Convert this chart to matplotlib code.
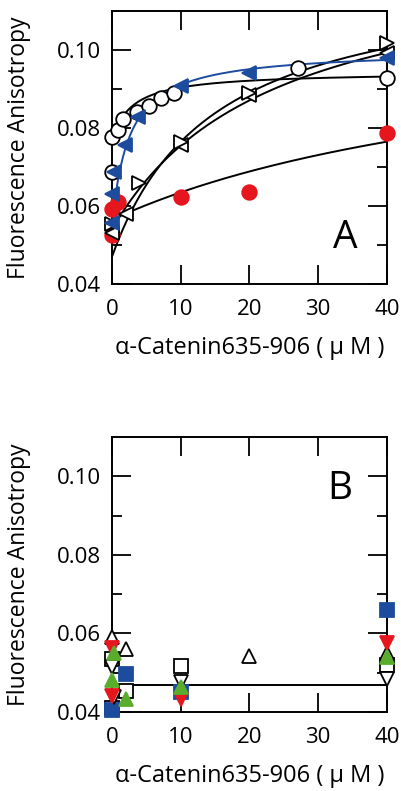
import matplotlib
matplotlib.use("Agg")
import matplotlib.pyplot as plt
import numpy as np
from matplotlib.ticker import FixedLocator

plt.rcParams['font.family'] = ['Open Sans', 'DejaVu Sans']

RED = '#e5161e'
BLUE = '#1d4c9e'
GREEN = '#5aad2c'

# ---------------- Panel A: binding titrations ----------------
circ_x = [0, 0, 0.9, 1.6, 3.6, 5.4, 7.2, 9.0, 27, 40]
circ_y = [0.0778, 0.0688, 0.0795, 0.0822, 0.0842, 0.0856, 0.0878, 0.0889, 0.0953, 0.0927]

blue_x = [0, 0, 0.3, 1.9, 3.8, 10, 20, 40]
blue_y = [0.0557, 0.0632, 0.0688, 0.0756, 0.0829, 0.0908, 0.0942, 0.0979]

rtri_x = [0, 4, 10, 20, 40]
rtri_y = [0.0555, 0.0660, 0.0765, 0.0890, 0.1017]

ltri_x = [0, 2, 10, 20, 40]
ltri_y = [0.0530, 0.0580, 0.0757, 0.0885, 0.0993]

red_x = [0, 0, 0.9, 10, 20, 40]
red_y = [0.0526, 0.0592, 0.0611, 0.0622, 0.0637, 0.0788]

# hyperbolic fits: (r0, amplitude, Kd)
fit_circ = (0.0770, 0.0174, 3.0)
fit_blue = (0.0550, 0.0451, 2.5)
fit_rtri = (0.0470, 0.0734, 14.9)
fit_ltri = (0.0540, 0.0718, 23.4)
fit_red = (0.0565, 0.0525, 65.0)

# ---------------- Panel B: non-binding controls ----------------
b_oup_x = [0, 2, 20, 40]
b_oup_y = [0.0590, 0.0560, 0.0542, 0.0549]

b_rdn_x = [0, 0, 10, 40]
b_rdn_y = [0.0562, 0.0442, 0.0434, 0.0575]

b_gup_x = [0.3, 0, 2, 10, 40]
b_gup_y = [0.0549, 0.0481, 0.0434, 0.0464, 0.0541]

b_bsq_x = [2, 10, 40, 0]
b_bsq_y = [0.0498, 0.0451, 0.0659, 0.0404]

b_osq_x = [0, 2, 10, 40, 0]
b_osq_y = [0.0534, 0.0453, 0.0517, 0.0519, 0.0411]

b_odn_x = [0, 0.3, 10, 40]
b_odn_y = [0.0515, 0.0438, 0.0476, 0.0485]

b_baseline = 0.0469

xlabel = 'α-Catenin635-906 ( μ M )'
ylabel = 'Fluorescence Anisotropy'
xticks = [0, 10, 20, 30, 40]
yticks = [0.04, 0.06, 0.08, 0.10]
yticklabels = ['0.04', '0.06', '0.08', '0.10']

W, H = 402, 791
fig = plt.figure(figsize=(W / 100, H / 100), dpi=100)

def frac(l, t, r, b):
    return [l / W, 1 - b / H, (r - l) / W, (b - t) / H]

axA = fig.add_axes(frac(112, 11, 387, 284))
axB = fig.add_axes(frac(112, 437, 387, 712))

def style(ax, letter, lpos):
    ax.set_xlim(0, 40)
    ax.set_ylim(0.04, 0.11)
    ax.xaxis.set_major_locator(FixedLocator(xticks))
    ax.set_yticks(yticks)
    ax.set_yticklabels(yticklabels)
    ax.yaxis.set_minor_locator(FixedLocator([0.05, 0.07, 0.09]))
    ax.tick_params(which='both', direction='in', top=True, right=True,
                   width=1.3, labelsize=16, color='black')
    ax.tick_params(which='major', length=13.5)
    ax.tick_params(which='minor', length=7)
    ax.tick_params(axis='x', pad=11)
    ax.tick_params(axis='y', pad=8)
    for s in ax.spines.values():
        s.set_linewidth(1.4)
    ax.set_xlabel(xlabel, fontsize=17, labelpad=11)
    ax.set_ylabel(ylabel, fontsize=16.5)
    ax.yaxis.set_label_coords(-0.295, 0.5)
    ax.text(lpos[0], lpos[1], letter, fontsize=28, ha='center', va='center',
            transform=ax.transAxes)

style(axA, 'A', (0.85, 0.17))
style(axB, 'B', (0.83, 0.81))

xs = np.linspace(0, 40, 300)

def hyp(p):
    r0, a, k = p
    return r0 + a * xs / (k + xs)

mk = dict(markersize=10.5, clip_on=False, markeredgewidth=1.3)

# Panel A curves
axA.plot(xs, hyp(fit_red), color='black', lw=1.4, zorder=2)
axA.plot(xs, hyp(fit_rtri), color='black', lw=1.4, zorder=2)
axA.plot(xs, hyp(fit_ltri), color='black', lw=1.4, zorder=2)
axA.plot(xs, hyp(fit_circ), color='black', lw=1.4, zorder=2)
axA.plot(xs, hyp(fit_blue), color=BLUE, lw=1.4, zorder=2)

# Panel A points
axA.plot(red_x, red_y, 'o', color=RED, markeredgecolor=RED, zorder=3, **mk)
axA.plot(ltri_x, ltri_y, '<', color='white', markeredgecolor='black', zorder=4, **mk)
axA.plot(rtri_x, rtri_y, '>', color='white', markeredgecolor='black', zorder=4, **mk)
axA.plot(circ_x, circ_y, 'o', color='white', markeredgecolor='black', zorder=4, **mk)
axA.plot(blue_x, blue_y, '<', color=BLUE, markeredgecolor=BLUE, zorder=5, **mk)

# Panel B
axB.plot([0, 40], [b_baseline, b_baseline], color='black', lw=1.4, zorder=2)
axB.plot(b_osq_x, b_osq_y, 's', color='white', markeredgecolor='black', zorder=3, **mk)
axB.plot(b_bsq_x, b_bsq_y, 's', color=BLUE, markeredgecolor=BLUE, zorder=3, **mk)
axB.plot(b_odn_x, b_odn_y, 'v', color='white', markeredgecolor='black', zorder=4, **mk)
axB.plot(b_oup_x, b_oup_y, '^', color='white', markeredgecolor='black', zorder=4, **mk)
axB.plot(b_rdn_x, b_rdn_y, 'v', color=RED, markeredgecolor=RED, zorder=5, **mk)
axB.plot(b_gup_x, b_gup_y, '^', color=GREEN, markeredgecolor=GREEN, zorder=6, **mk)

fig.savefig('out.png', dpi=100)
